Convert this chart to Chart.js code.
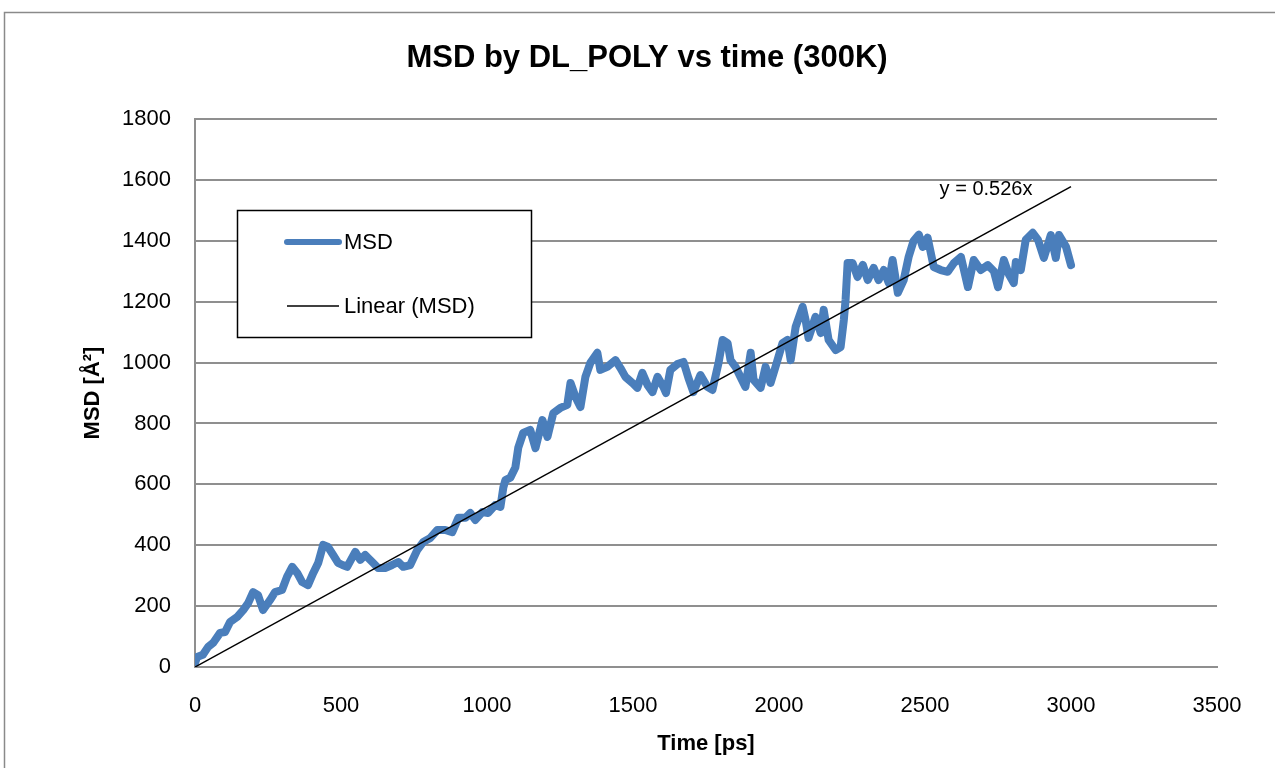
<!DOCTYPE html>
<html>
<head>
<meta charset="utf-8">
<script src="https://cdn.jsdelivr.net/npm/chart.js@4.4.1/dist/chart.umd.min.js"></script>
<style>
  html, body { margin: 0; padding: 0; background: #ffffff; }
  #msdCanvas { display: block; }
</style>
</head>
<body>
<canvas id="msdCanvas" width="1275" height="768"></canvas>
<script>
// MSD trace (time in ps, MSD in Å²)
const timePs = [
    0, 7, 27, 45, 62, 86, 103, 120, 144, 165, 182, 199, 216, 233, 257, 274, 298, 315, 333, 350,
    367, 387, 405, 422, 439, 456, 473, 490, 505, 521, 549, 566, 583, 607, 627, 651, 675, 696, 713, 737,
    761, 782, 806, 830, 857, 881, 902, 926, 943, 960, 984, 1004, 1028, 1046, 1056, 1063, 1080, 1097, 1107, 1124,
    1148, 1166, 1190, 1207, 1227, 1251, 1275, 1286, 1303, 1320, 1337, 1354, 1378, 1388, 1412, 1440, 1457, 1474, 1498, 1515,
    1532, 1550, 1567, 1584, 1604, 1613, 1628, 1652, 1673, 1690, 1707, 1731, 1755, 1772, 1793, 1807, 1824, 1834, 1851, 1868,
    1885, 1903, 1913, 1937, 1954, 1971, 1988, 2012, 2029, 2040, 2057, 2081, 2091, 2101, 2125, 2143, 2153, 2170, 2194, 2211,
    2222, 2228, 2235, 2252, 2269, 2287, 2304, 2324, 2341, 2359, 2376, 2389, 2407, 2427, 2444, 2461, 2479, 2492, 2509, 2530,
    2554, 2578, 2599, 2623, 2647, 2667, 2691, 2715, 2736, 2750, 2770, 2787, 2804, 2811, 2828, 2845, 2869, 2887, 2907, 2931,
    2948, 2959, 2983, 3000
];
const msdValues = [
    13, 33, 40, 66, 79, 112, 115, 148, 164, 187, 210, 246, 236, 187, 220, 246, 253, 296, 329, 309,
    279, 269, 309, 342, 401, 394, 368, 342, 335, 329, 378, 352, 368, 345, 325, 325, 335, 345, 329, 335,
    384, 411, 424, 450, 450, 443, 490, 490, 506, 483, 509, 506, 532, 526, 590, 614, 622, 655, 720, 769,
    779, 719, 811, 756, 834, 851, 861, 933, 887, 854, 953, 999, 1032, 976, 986, 1008, 982, 953, 933, 917,
    966, 926, 903, 953, 920, 900, 976, 995, 1002, 949, 903, 959, 920, 910, 999, 1074, 1064, 1008, 986, 953,
    920, 1032, 943, 917, 986, 933, 986, 1064, 1074, 1008, 1117, 1183, 1140, 1081, 1150, 1097, 1173, 1074, 1041, 1051,
    1140, 1206, 1327, 1327, 1281, 1321, 1271, 1311, 1271, 1304, 1261, 1337, 1229, 1271, 1347, 1400, 1420, 1380, 1410, 1314,
    1304, 1298, 1327, 1347, 1248, 1337, 1304, 1320, 1300, 1248, 1337, 1290, 1261, 1330, 1304, 1403, 1426, 1403, 1344, 1419,
    1344, 1419, 1380, 1320
];

// Linear fit through origin
const trendSlope = 0.526;
const trendRange = [0, 3000];

// Axis settings
const xTicks = [0, 500, 1000, 1500, 2000, 2500, 3000, 3500];
const yTicks = [0, 200, 400, 600, 800, 1000, 1200, 1400, 1600, 1800];

const FONT = "'Liberation Sans', Arial, sans-serif";
const MSD_BLUE = '#4a7ebb';
const GRID_GREY = '#8f8f8f';

// Frame, title, axis titles, legend box and trend label
const decorPlugin = {
    id: 'decor',
    beforeDraw(chart) {
        const ctx = chart.ctx;
        ctx.save();
        ctx.fillStyle = '#ffffff';
        ctx.fillRect(0, 0, chart.width, chart.height);
        ctx.strokeStyle = '#8a8a8a';
        ctx.lineWidth = 1.5;
        ctx.strokeRect(4.5, 12.5, 1400, 1000);
        ctx.restore();
    },
    afterDraw(chart) {
        const ctx = chart.ctx;
        const area = chart.chartArea;
        const xs = chart.scales.x;
        const ys = chart.scales.y;
        ctx.save();
        ctx.fillStyle = '#000000';
        ctx.textBaseline = 'middle';

        // title
        ctx.textAlign = 'center';
        ctx.font = 'bold 31px ' + FONT;
        ctx.fillText('MSD by DL_POLY vs time (300K)', 647, 58);

        // axis titles
        ctx.font = 'bold 22px ' + FONT;
        ctx.fillText('Time [ps]', (area.left + area.right) / 2, 744);
        ctx.save();
        ctx.translate(93, (area.top + area.bottom) / 2);
        ctx.rotate(-Math.PI / 2);
        ctx.fillText('MSD [Å²]', 0, 0);
        ctx.restore();

        // trend equation
        ctx.textAlign = 'left';
        ctx.font = '20px ' + FONT;
        ctx.fillText('y = ' + trendSlope + 'x', xs.getPixelForValue(2550), ys.getPixelForValue(1568));

        // legend
        ctx.fillStyle = '#ffffff';
        ctx.fillRect(237, 210, 294, 127);
        ctx.strokeStyle = '#000000';
        ctx.lineWidth = 1.5;
        ctx.strokeRect(237.5, 210.5, 294, 127);

        const items = chart.data.datasets.slice().sort((a, b) => b.order - a.order);
        const rows = [242, 306];
        items.forEach((ds, i) => {
            ctx.beginPath();
            ctx.strokeStyle = ds.borderColor;
            ctx.lineWidth = ds.borderWidth > 3 ? 6 : ds.borderWidth;
            ctx.lineCap = ds.borderWidth > 3 ? 'round' : 'butt';
            ctx.moveTo(287, rows[i]);
            ctx.lineTo(339, rows[i]);
            ctx.stroke();
            ctx.fillStyle = '#000000';
            ctx.font = '22px ' + FONT;
            ctx.fillText(ds.label, 344, rows[i] + 1);
        });
        ctx.restore();
    }
};

const msdPoints = timePs.map((t, i) => ({ x: t, y: msdValues[i] }));
const trendPoints = trendRange.map(t => ({ x: t, y: trendSlope * t }));

new Chart(document.getElementById('msdCanvas'), {
    type: 'line',
    data: {
        datasets: [
            {
                label: 'MSD',
                data: msdPoints,
                borderColor: MSD_BLUE,
                backgroundColor: MSD_BLUE,
                borderWidth: 8,
                borderJoinStyle: 'round',
                borderCapStyle: 'round',
                pointRadius: 0,
                tension: 0,
                order: 1
            },
            {
                label: 'Linear (MSD)',
                data: trendPoints,
                borderColor: '#000000',
                borderWidth: 1.5,
                pointRadius: 0,
                tension: 0,
                order: 0
            }
        ]
    },
    options: {
        responsive: false,
        animation: false,
        devicePixelRatio: 1,
        layout: { padding: { left: 0, top: 119, right: 58, bottom: 0 } },
        plugins: {
            legend: { display: false },
            title: { display: false },
            tooltip: { enabled: false }
        },
        scales: {
            x: {
                type: 'linear',
                min: xTicks[0],
                max: xTicks[xTicks.length - 1],
                afterBuildTicks: scale => { scale.ticks = xTicks.map(v => ({ value: v })); },
                afterFit: scale => { scale.height = 101; },
                grid: { drawOnChartArea: false, drawTicks: false },
                border: { display: true, color: GRID_GREY, width: 2 },
                ticks: {
                    color: '#000000', padding: 26, maxRotation: 0,
                    font: { size: 22, family: FONT },
                    callback: v => String(v)
                }
            },
            y: {
                type: 'linear',
                min: yTicks[0],
                max: yTicks[yTicks.length - 1],
                afterBuildTicks: scale => { scale.ticks = yTicks.map(v => ({ value: v })); },
                afterFit: scale => { scale.width = 195; },
                grid: { color: GRID_GREY, lineWidth: 2, drawTicks: false },
                border: { display: true, color: GRID_GREY, width: 2 },
                ticks: {
                    color: '#000000', padding: 24,
                    font: { size: 22, family: FONT },
                    callback: v => String(v)
                }
            }
        }
    },
    plugins: [decorPlugin]
});
</script>
</body>
</html>
